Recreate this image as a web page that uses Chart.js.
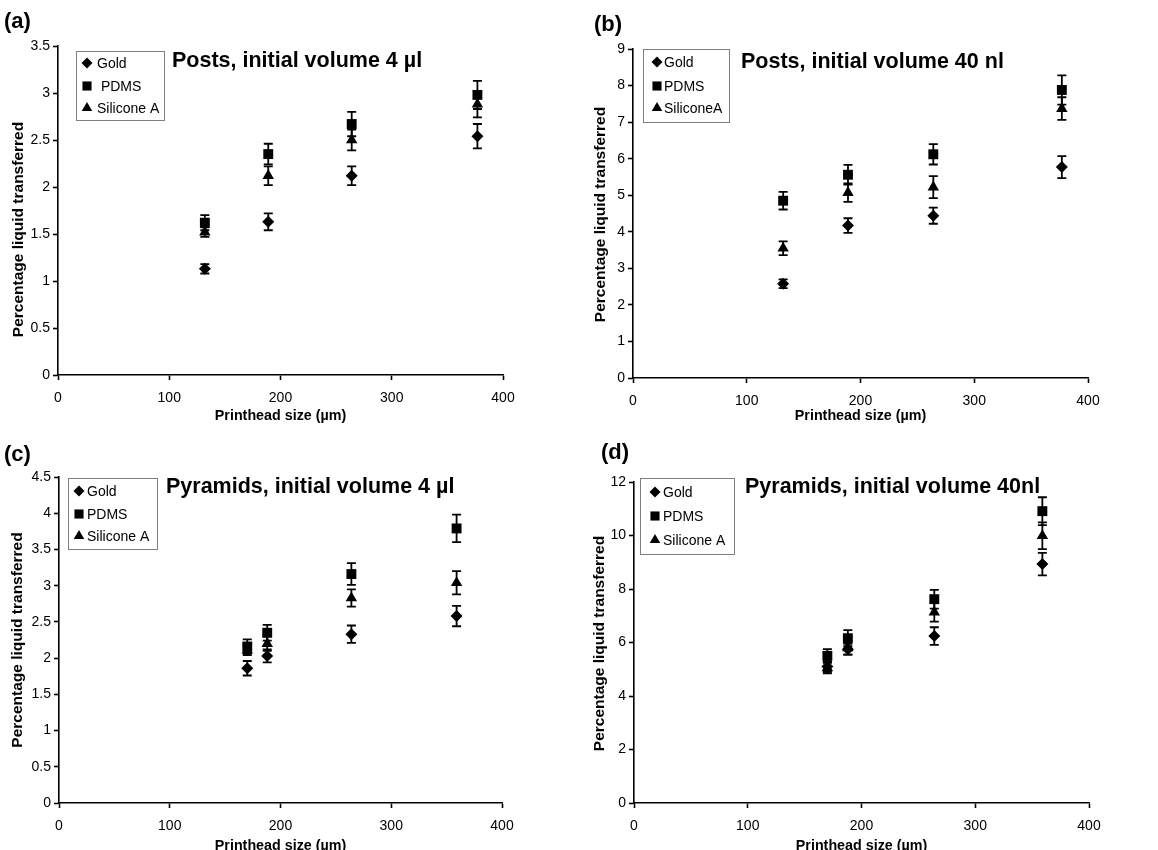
<!DOCTYPE html>
<html><head><meta charset="utf-8">
<script src="https://cdn.jsdelivr.net/npm/chart.js@4.4.1/dist/chart.umd.min.js"></script>
<style>
html,body{margin:0;padding:0;background:#fff;width:1158px;height:850px;overflow:hidden;}
canvas{position:absolute;display:block;}
</style></head><body>
<canvas id="ca" width="579" height="425" style="left:0;top:0"></canvas>
<canvas id="cb" width="579" height="425" style="left:579px;top:0"></canvas>
<canvas id="cc" width="579" height="430" style="left:0;top:425px"></canvas>
<canvas id="cd" width="579" height="430" style="left:579px;top:425px"></canvas>
<script>
// ---------- data ----------
const postsSize = [132, 189, 264, 377];
const pyramidsSize = [170, 188, 264, 359];
const seriesNames = ['Gold', 'PDMS', 'Silicone A'];

const aGold = [1.13, 1.63, 2.12, 2.54];
const aGoldErr = [0.05, 0.09, 0.10, 0.13];
const aPdms = [1.62, 2.35, 2.67, 2.98];
const aPdmsErr = [0.08, 0.11, 0.13, 0.15];
const aSil = [1.52, 2.12, 2.50, 2.88];
const aSilErr = [0.05, 0.10, 0.11, 0.14];

const bGold = [2.58, 4.17, 4.44, 5.77];
const bGoldErr = [0.12, 0.20, 0.22, 0.30];
const bPdms = [4.85, 5.56, 6.12, 7.88];
const bPdmsErr = [0.24, 0.27, 0.28, 0.40];
const bSil = [3.55, 5.07, 5.22, 7.37];
const bSilErr = [0.19, 0.25, 0.30, 0.31];

const cGold = [1.86, 2.03, 2.33, 2.58];
const cGoldErr = [0.10, 0.09, 0.12, 0.14];
const cPdms = [2.16, 2.35, 3.16, 3.79];
const cPdmsErr = [0.10, 0.11, 0.15, 0.19];
const cSil = [2.11, 2.20, 2.83, 3.04];
const cSilErr = [0.07, 0.10, 0.12, 0.16];

const dGold = [5.10, 5.75, 6.24, 8.93];
const dGoldErr = [0.20, 0.20, 0.33, 0.42];
const dPdms = [5.50, 6.16, 7.62, 10.91];
const dPdmsErr = [0.25, 0.30, 0.35, 0.52];
const dSil = [5.05, 5.80, 7.13, 9.99];
const dSilErr = [0.20, 0.25, 0.35, 0.50];

const legendA = ['Gold', ' PDMS', 'Silicone A'];
const legendB = ['Gold', 'PDMS', 'SiliconeA'];
const legendC = ['Gold', 'PDMS', 'Silicone A'];
const legendD = ['Gold', 'PDMS', 'Silicone A'];

const xTicks = [0, 100, 200, 300, 400];
const xTitle = 'Printhead size (\u00b5m)';
const yTitle = 'Percentage liquid transferred';

// ---------- styling ----------
const FONT = '"Liberation Sans", Arial, Helvetica, sans-serif';
const markerStyles = ['rectRot', 'rect', 'triangle'];
const markerRadius = [6, 7, 6.6];

function drawMarker(ctx, style, r, x, y) {
  if (Chart.helpers && Chart.helpers.drawPoint) {
    ctx.fillStyle = '#000'; ctx.strokeStyle = '#000';
    Chart.helpers.drawPoint(ctx, {pointStyle: style, radius: r, rotation: 0, borderWidth: 0}, x, y);
    return;
  }
  ctx.beginPath();
  if (style === 'rect') { const s = r * Math.SQRT1_2; ctx.rect(x - s, y - s, 2 * s, 2 * s); }
  else if (style === 'rectRot') { ctx.moveTo(x, y - r); ctx.lineTo(x + r, y); ctx.lineTo(x, y + r); ctx.lineTo(x - r, y); ctx.closePath(); }
  else { const a = Math.PI * 2 / 3; ctx.moveTo(x, y - r); ctx.lineTo(x + Math.sin(a) * r, y - Math.cos(a) * r); ctx.lineTo(x - Math.sin(a) * r, y - Math.cos(a) * r); ctx.closePath(); }
  ctx.fillStyle = '#000'; ctx.fill();
}

const errorBarPlugin = {
  id: 'errorBars',
  beforeDatasetsDraw(chart) {
    const ctx = chart.ctx, xs = chart.scales.x, ys = chart.scales.y;
    ctx.save();
    ctx.strokeStyle = '#000'; ctx.lineWidth = 1.8;
    chart.data.datasets.forEach(ds => {
      ds.data.forEach((p, i) => {
        const e = ds.errors[i];
        const px = xs.getPixelForValue(p.x);
        const t = ys.getPixelForValue(p.y + e), b = ys.getPixelForValue(p.y - e);
        const cw = 4.5;
        ctx.beginPath();
        ctx.moveTo(px, t); ctx.lineTo(px, b);
        ctx.moveTo(px - cw, t); ctx.lineTo(px + cw, t);
        ctx.moveTo(px - cw, b); ctx.lineTo(px + cw, b);
        ctx.stroke();
      });
    });
    ctx.restore();
  }
};

const decorPlugin = {
  id: 'decor',
  afterDraw(chart) {
    const o = chart.options.plugins.decor;
    const ctx = chart.ctx, a = chart.chartArea;
    ctx.save();
    // panel tag
    ctx.fillStyle = '#000';
    ctx.font = 'bold 22px ' + FONT;
    ctx.textBaseline = 'middle'; ctx.textAlign = 'left';
    ctx.fillText(o.tag, o.tagX, o.tagY);
    // title
    ctx.font = 'bold 21.5px ' + FONT;
    ctx.fillText(o.title, a.left + o.titleDx, a.top + o.titleDy);
    // y axis title
    ctx.save();
    ctx.translate(o.yTitleX, (a.top + a.bottom) / 2 + o.yTitleDy);
    ctx.rotate(-Math.PI / 2);
    ctx.textAlign = 'center';
    ctx.font = 'bold 15.5px ' + FONT;
    ctx.fillText(yTitle, 0, 0);
    ctx.restore();
    // legend box
    const lx = a.left + o.lg.dx, ly = a.top + o.lg.dy;
    ctx.fillStyle = '#fff';
    ctx.fillRect(lx, ly, o.lg.w, o.lg.h);
    ctx.strokeStyle = '#7f7f7f'; ctx.lineWidth = 1;
    ctx.strokeRect(Math.round(lx) + 0.5, Math.round(ly) + 0.5, o.lg.w, o.lg.h);
    ctx.font = '14px ' + FONT;
    chart.data.datasets.forEach((ds, i) => {
      const ry = ly + o.lg.rows[i];
      drawMarker(ctx, ds.pointStyle, ds.pointRadius * 0.92, lx + o.lg.mx, ry);
      ctx.fillStyle = '#000';
      ctx.fillText(o.labels[i], lx + o.lg.tx, ry + 1);
    });
    ctx.restore();
  }
};

function build(id, cfg) {
  const datasets = cfg.series.map((vals, k) => ({
    label: seriesNames[k],
    data: vals.map((v, i) => ({x: cfg.x[i], y: v})),
    errors: cfg.errs[k],
    pointStyle: markerStyles[k],
    pointRadius: markerRadius[k],
    pointHoverRadius: markerRadius[k],
    backgroundColor: '#000',
    borderColor: '#000',
    borderWidth: 0,
    showLine: false
  }));
  const L = cfg.layout;
  const axisCommon = {
    border: {display: true, color: '#000', width: 1.6},
    grid: {display: true, drawOnChartArea: false, drawTicks: true, tickLength: 5, tickColor: '#000', tickWidth: 1.6, color: '#000'},
  };
  return new Chart(document.getElementById(id), {
    type: 'scatter',
    data: {datasets},
    options: {
      responsive: false, animation: false,
      layout: {padding: {left: 0, top: L.padTop, right: L.padRight, bottom: 0}},
      plugins: {
        legend: {display: false}, tooltip: {enabled: false},
        decor: {tag: cfg.tag, tagX: L.tagX, tagY: L.tagY, title: cfg.title, titleDx: L.titleDx, titleDy: L.titleDy,
                yTitleX: L.yTitleX, yTitleDy: L.yTitleDy, labels: cfg.legend, lg: L.lg}
      },
      scales: {
        x: Object.assign({}, axisCommon, {
          type: 'linear', min: 0, max: 400,
          afterBuildTicks: s => { s.ticks = xTicks.map(v => ({value: v})); },
          afterFit: s => { s.height = L.xHeight; },
          ticks: {color: '#000', font: {family: FONT, size: 14}, padding: 10, maxRotation: 0, callback: v => String(v)},
          title: {display: true, text: xTitle, color: '#000', font: {family: FONT, size: 14.3, weight: 'bold'}, padding: {top: 0, bottom: L.xTitlePad}}
        }),
        y: Object.assign({}, axisCommon, {
          type: 'linear', min: 0, max: cfg.yMax,
          afterBuildTicks: s => { s.ticks = cfg.yTicks.map(v => ({value: v})); },
          afterFit: s => { s.width = L.yWidth; },
          ticks: {color: '#000', font: {family: FONT, size: 14}, padding: 3, callback: v => String(Number(v.toFixed(2)))},
          title: {display: false}
        })
      }
    },
    plugins: [errorBarPlugin, decorPlugin]
  });
}

build('ca', {
  tag: '(a)', title: 'Posts, initial volume 4 \u00b5l', x: postsSize,
  series: [aGold, aPdms, aSil], errs: [aGoldErr, aPdmsErr, aSilErr], legend: legendA,
  yMax: 3.5, yTicks: [0, 0.5, 1, 1.5, 2, 2.5, 3, 3.5],
  layout: {padTop: 46, padRight: 76, yWidth: 58, xHeight: 50, xTitlePad: 0,
    yTitleX: 19, yTitleDy: 19,
    tagX: 4, tagY: 22, titleDx: 114, titleDy: 15,
    lg: {dx: 18, dy: 5, w: 88, h: 69, rows: [12, 35, 57], mx: 11, tx: 21}}
});
build('cb', {
  tag: '(b)', title: 'Posts, initial volume 40 nl', x: postsSize,
  series: [bGold, bPdms, bSil], errs: [bGoldErr, bPdmsErr, bSilErr], legend: legendB,
  yMax: 9, yTicks: [0, 1, 2, 3, 4, 5, 6, 7, 8, 9],
  layout: {padTop: 49, padRight: 70, yWidth: 54, xHeight: 47, xTitlePad: 0,
    yTitleX: 22, yTitleDy: 1,
    tagX: 15, tagY: 25, titleDx: 108, titleDy: 13,
    lg: {dx: 10, dy: 0, w: 86, h: 73, rows: [13, 37, 59], mx: 14, tx: 21}}
});
build('cc', {
  tag: '(c)', title: 'Pyramids, initial volume 4 \u00b5l', x: pyramidsSize,
  series: [cGold, cPdms, cSil], errs: [cGoldErr, cPdmsErr, cSilErr], legend: legendC,
  yMax: 4.5, yTicks: [0, 0.5, 1, 1.5, 2, 2.5, 3, 3.5, 4, 4.5],
  layout: {padTop: 52, padRight: 77, yWidth: 59, xHeight: 52, xTitlePad: 0,
    yTitleX: 18, yTitleDy: 0,
    tagX: 4, tagY: 30, titleDx: 107, titleDy: 10,
    lg: {dx: 9, dy: 1, w: 89, h: 71, rows: [13, 36, 58], mx: 11, tx: 19}}
});
build('cd', {
  tag: '(d)', title: 'Pyramids, initial volume 40nl', x: pyramidsSize,
  series: [dGold, dPdms, dSil], errs: [dGoldErr, dPdmsErr, dSilErr], legend: legendD,
  yMax: 12, yTicks: [0, 2, 4, 6, 8, 10, 12],
  layout: {padTop: 57, padRight: 69, yWidth: 55, xHeight: 52, xTitlePad: 0,
    yTitleX: 21, yTitleDy: 1,
    tagX: 22, tagY: 28, titleDx: 111, titleDy: 5,
    lg: {dx: 6, dy: -4, w: 94, h: 76, rows: [14, 38, 62], mx: 15, tx: 23}}
});
</script>
</body></html>
